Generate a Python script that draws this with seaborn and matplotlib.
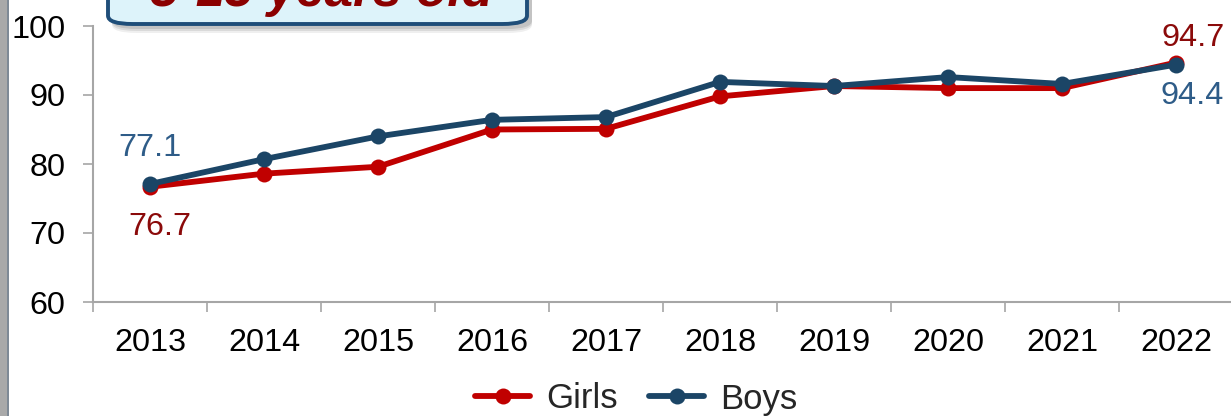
import numpy as np
import pandas as pd
import matplotlib
matplotlib.use("Agg")
import matplotlib.pyplot as plt
import seaborn as sns
from matplotlib.patches import FancyBboxPatch, Rectangle

# values
years = ["2013", "2014", "2015", "2016", "2017", "2018", "2019", "2020", "2021", "2022"]
girls = [76.7, 78.6, 79.6, 85.0, 85.1, 89.8, 91.3, 91.0, 91.0, 94.7]
boys = [77.1, 80.7, 84.0, 86.4, 86.8, 91.9, 91.3, 92.6, 91.6, 94.4]
series_names = ["Girls", "Boys"]
y_ticks = [60, 70, 80, 90, 100]
title_text = "5-15 years old"

GIRLS_COLOR = "#c00000"
BOYS_COLOR = "#1b4566"
GIRLS_LABEL = "#8b0a0a"
BOYS_LABEL = "#2e5c88"
AXIS_GRAY = "#a6a6a6"

df = pd.DataFrame({
    "pos": list(range(len(years))) * 2,
    "value": girls + boys,
    "series": [series_names[0]] * len(years) + [series_names[1]] * len(years),
})

sns.set_style("white")
plt.rcParams["font.family"] = ["Liberation Sans", "DejaVu Sans"]

W, H = 1231, 416
FS = 23.3
fig = plt.figure(figsize=(W / 100, H / 100), dpi=100)
ax = fig.add_axes([93 / W, 1 - 302 / H, 1140 / W, 276 / H])

sns.lineplot(data=df, x="pos", y="value", hue="series",
             palette={"Girls": GIRLS_COLOR, "Boys": BOYS_COLOR},
             marker="o", markersize=11.5, markeredgewidth=0, linewidth=4.2,
             ax=ax, legend=False)

ax.set_xlim(-0.5, len(years) - 0.5)
ax.set_ylim(60, 100)
ax.set_xlabel("")
ax.set_ylabel("")

# category boundaries carry the tick marks, centres carry the labels
ax.set_xticks(np.arange(-0.5, len(years), 1.0))
ax.set_xticklabels([])
ax.set_xticks(np.arange(len(years)), minor=True)
ax.set_xticklabels(years, minor=True)
ax.tick_params(axis="x", which="major", length=7, width=1.2, color=AXIS_GRAY, direction="out")
ax.tick_params(axis="x", which="minor", length=0, pad=19, labelsize=FS, labelcolor="black")
ax.set_yticks(y_ticks)
ax.tick_params(axis="y", length=7, width=1.2, color=AXIS_GRAY, direction="out",
               pad=13, labelsize=FS, labelcolor="black")
ax.tick_params(bottom=True, left=True, which="major")

for side in ["top", "right"]:
    ax.spines[side].set_visible(False)
for side in ["left", "bottom"]:
    ax.spines[side].set_color(AXIS_GRAY)
    ax.spines[side].set_linewidth(1.5)

# end-point labels
ax.annotate(f"{boys[0]:.1f}", (0, boys[0]), xytext=(0, 15), textcoords="offset points",
            ha="center", va="bottom", fontsize=FS, color=BOYS_LABEL)
ax.annotate(f"{girls[0]:.1f}", (0, girls[0]), xytext=(7, -18), textcoords="offset points",
            ha="center", va="top", fontsize=FS, color=GIRLS_LABEL)
ax.annotate(f"{girls[-1]:.1f}", (9, girls[-1]), xytext=(12, 7), textcoords="offset points",
            ha="center", va="bottom", fontsize=FS, color=GIRLS_LABEL)
ax.annotate(f"{boys[-1]:.1f}", (9, boys[-1]), xytext=(12, -12), textcoords="offset points",
            ha="center", va="top", fontsize=FS, color=BOYS_LABEL)

# legend at the bottom
handles = [plt.Line2D([], [], color=GIRLS_COLOR, lw=4.2, marker="o", ms=11.5, mew=0),
           plt.Line2D([], [], color=BOYS_COLOR, lw=4.2, marker="o", ms=11.5, mew=0)]
fig.legend(handles, series_names, loc="center", bbox_to_anchor=(636 / W, 1 - 399 / H),
           ncol=2, frameon=False, fontsize=25, handlelength=1.6, handletextpad=0.45,
           columnspacing=0.9, borderaxespad=0)

# gray strip on the left edge
fig.patches.append(Rectangle((0, 0), 7 / W, 1, transform=fig.transFigure,
                             facecolor="#a9a9a9", edgecolor="none", zorder=5))
fig.patches.append(Rectangle((7 / W, 0), 2 / W, 1, transform=fig.transFigure,
                             facecolor="#7f8a96", edgecolor="none", zorder=5))

# title box, cut by the top of the image (soft shadow first)
for off, alpha in [(9, 0.12), (7, 0.18), (5, 0.25)]:
    fig.patches.append(FancyBboxPatch((112 / W, 1 - (24 + off) / H), 420 / W, 60 / H,
                                      boxstyle="round,pad=0,rounding_size=0.02",
                                      transform=fig.transFigure, facecolor="#808080",
                                      edgecolor="none", alpha=alpha, zorder=4))
fig.patches.append(FancyBboxPatch((108 / W, 1 - 24 / H), 419 / W, 60 / H,
                                  boxstyle="round,pad=0,rounding_size=0.02",
                                  transform=fig.transFigure, facecolor="#ddf3fa",
                                  edgecolor="#1f4e79", linewidth=2.8, zorder=5))
fig.text(322 / W, 1 - 6 / H, title_text, ha="center", va="baseline",
         fontsize=37, fontweight="bold", fontstyle="italic", color="#8b0000", zorder=6)

fig.savefig("out.png", dpi=100)
